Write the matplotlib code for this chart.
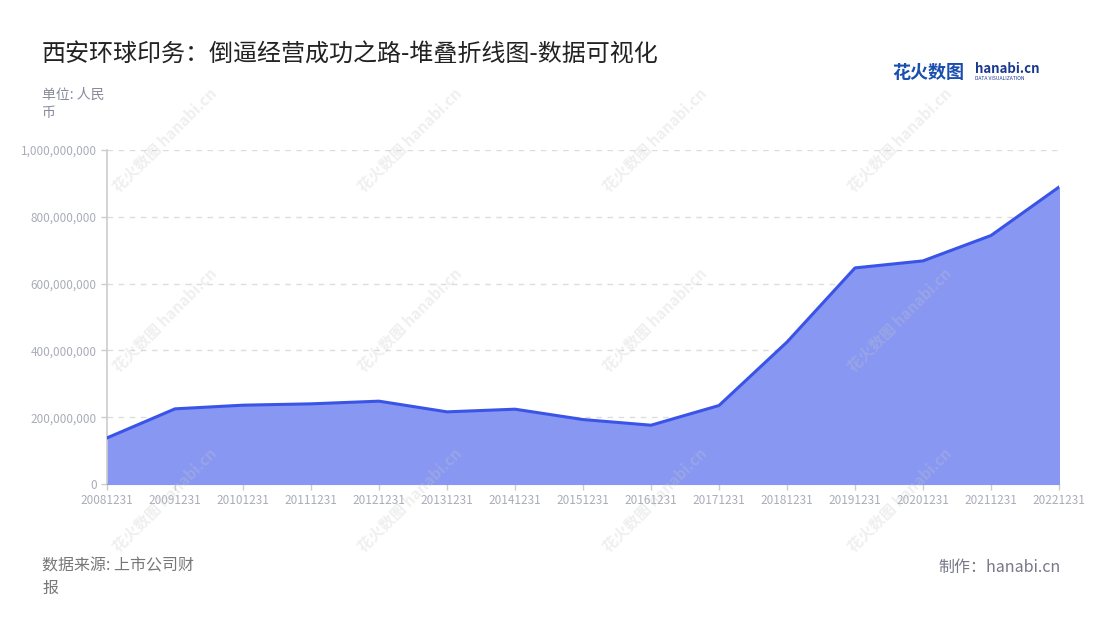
import matplotlib
matplotlib.use("Agg")
import matplotlib.pyplot as plt
from matplotlib.ticker import FuncFormatter

plt.rcParams['font.family'] = ['Noto Sans CJK SC', 'DejaVu Sans']

# data
dates = ['20081231', '20091231', '20101231', '20111231', '20121231',
         '20131231', '20141231', '20151231', '20161231', '20171231',
         '20181231', '20191231', '20201231', '20211231', '20221231']
revenue = [138e6, 225e6, 236e6, 240e6, 248e6,
           216e6, 224e6, 193e6, 176e6, 235e6,
           425e6, 647e6, 668e6, 744e6, 889e6]
yticks = [0, 200e6, 400e6, 600e6, 800e6, 1000e6]

fig = plt.figure(figsize=(11, 6.2), dpi=100)
ax = fig.add_axes([107 / 1100, 1 - 484 / 620, (1059 - 107) / 1100, (484 - 150) / 620])

x = list(range(len(dates)))
ax.fill_between(x, revenue, 0, color='#8797f2', zorder=2)
ax.plot(x, revenue, color='#3a54e8', lw=2.2, zorder=3, solid_joinstyle='round')

ax.set_xlim(0, len(dates) - 1)
ax.set_ylim(0, 1e9)
ax.set_xticks(x)
ax.set_xticklabels(dates)
ax.set_yticks(yticks)
ax.yaxis.set_major_formatter(FuncFormatter(lambda v, p: f'{int(v):,}'))
ax.tick_params(axis='both', labelsize=8.5, labelcolor='#a9adb8', color='#cccccc',
               length=4, width=1)
ax.tick_params(axis='x', pad=3)
ax.grid(axis='y', color='#dddddd', ls=(0, (4, 4)), lw=1, zorder=0)
for s in ['top', 'right']:
    ax.spines[s].set_visible(False)
ax.spines['left'].set_color('#cccccc')
ax.spines['left'].set_linewidth(1.2)
ax.spines['bottom'].set_color('#8797f2')

# watermark
for wx in [165, 410, 655, 900]:
    for wy in [140, 320, 500]:
        fig.text(wx / 1100, 1 - wy / 620, '花火数图 hanabi.cn', rotation=45,
                 fontsize=11, color='#c8c8c8', alpha=0.28, ha='center', va='center',
                 fontweight='bold', zorder=10)

fig.text(42 / 1100, 1 - 55 / 620, '西安环球印务：倒逼经营成功之路-堆叠折线图-数据可视化',
         fontsize=17.3, color='#222222', va='center')
fig.text(42 / 1100, 1 - 104 / 620, '单位: 人民\n币', fontsize=10, color='#888a99',
         va='center', linespacing=1.4)
fig.text(42 / 1100, 1 - 577 / 620, '数据来源: 上市公司财\n报', fontsize=11.5, color='#777777',
         va='center', linespacing=1.45)
fig.text(1061 / 1100, 1 - 567 / 620, '制作：hanabi.cn', fontsize=11.5, color='#777788',
         va='center', ha='right')

# logo
fig.text(892 / 1100, 1 - 72 / 620, '花火数图', fontsize=13, color='#1a4fb0',
         fontweight='bold', va='center')
fig.text(975 / 1100, 1 - 69 / 620, 'hanabi.cn', fontsize=9.5, color='#1a3a8f',
         fontweight='bold', va='center')
fig.text(975 / 1100, 1 - 79 / 620, 'DATA VISUALIZATION', fontsize=3.6, color='#1a3a8f',
         va='center')

fig.savefig('out.png', dpi=100, facecolor='white')
